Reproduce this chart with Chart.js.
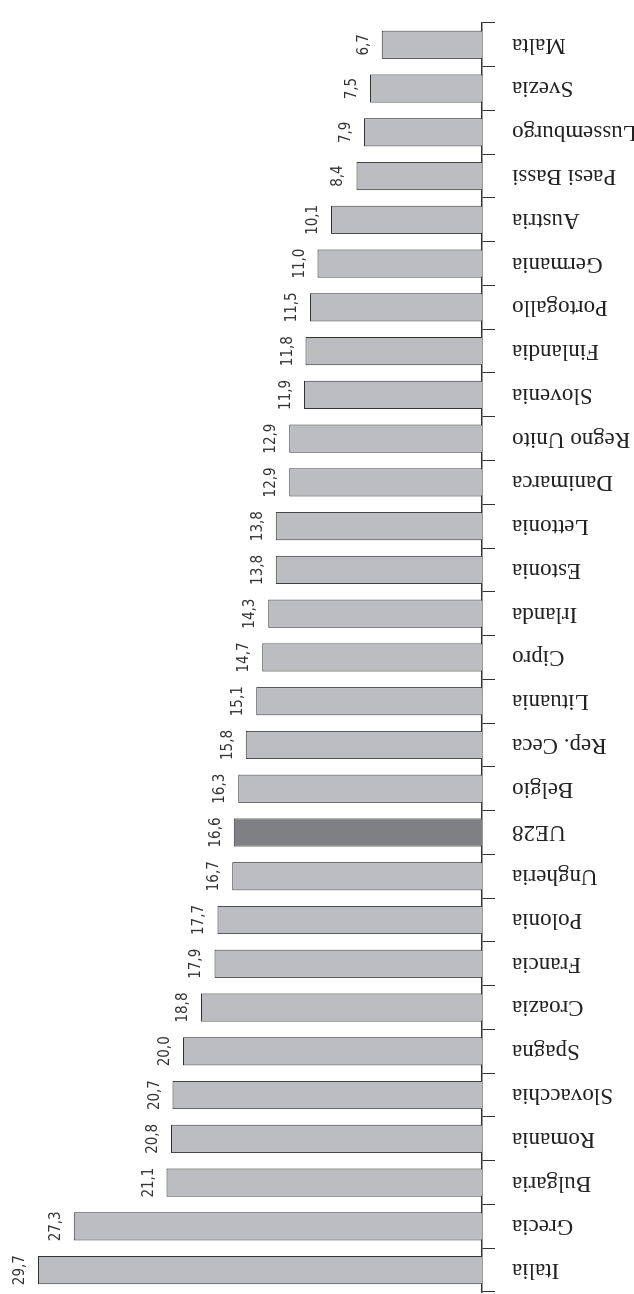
<!DOCTYPE html>
<html>
<head>
<meta charset="utf-8">
<script src="https://cdn.jsdelivr.net/npm/chart.js@4"></script>
<style>
  html, body { margin: 0; padding: 0; background: #ffffff; }
  #page { position: relative; width: 634px; height: 1294px; overflow: hidden; background: #ffffff; }
  /* the column chart is drawn landscape, then turned a quarter turn counter-clockwise */
  #turn {
    position: absolute; left: 0; top: 0;
    width: 1294px; height: 634px;
    transform-origin: 0 0;
    transform: translate(0, 1294px) rotate(-90deg);
  }
  canvas { display: block; }
</style>
</head>
<body>
<div id="page">
  <div id="turn"><canvas id="c" width="1294" height="634"></canvas></div>
</div>
<script>
// Paesi dell'UE e media UE28, valori in %
const categories = [
  'Italia', 'Grecia', 'Bulgaria', 'Romania', 'Slovacchia', 'Spagna', 'Croazia',
  'Francia', 'Polonia', 'Ungheria', 'UE28', 'Belgio', 'Rep. Ceca', 'Lituania',
  'Cipro', 'Irlanda', 'Estonia', 'Lettonia', 'Danimarca', 'Regno Unito',
  'Slovenia', 'Finlandia', 'Portogallo', 'Germania', 'Austria', 'Paesi Bassi',
  'Lussemburgo', 'Svezia', 'Malta'
];
const values = [
  29.7, 27.3, 21.1, 20.8, 20.7, 20.0, 18.8,
  17.9, 17.7, 16.7, 16.6, 16.3, 15.8, 15.1,
  14.7, 14.3, 13.8, 13.8, 12.9, 12.9,
  11.9, 11.8, 11.5, 11.0, 10.1, 8.4,
  7.9, 7.5, 6.7
];
const highlighted = ['UE28'];

const fmt = v => v.toFixed(1).replace('.', ',');

const barColors = categories.map(c => highlighted.includes(c) ? '#7f8083' : '#bcbdc0');

// value printed above each column
const valueLabels = {
  id: 'valueLabels',
  afterDatasetsDraw(chart) {
    const ctx = chart.ctx;
    const meta = chart.getDatasetMeta(0);
    ctx.save();
    ctx.font = '15px "Liberation Sans Narrow", "DejaVu Sans Condensed", "Liberation Sans", sans-serif';
    ctx.fillStyle = '#333333';
    ctx.textAlign = 'center';
    ctx.textBaseline = 'alphabetic';
    meta.data.forEach((bar, i) => {
      ctx.fillText(fmt(values[i]), bar.x, bar.y - 14);
    });
    ctx.restore();
  }
};

new Chart(document.getElementById('c'), {
  type: 'bar',
  data: {
    labels: categories,
    datasets: [{
      data: values,
      backgroundColor: barColors,
      borderColor: '#333333',
      borderWidth: 1,
      barPercentage: 0.645,
      categoryPercentage: 1.0
    }]
  },
  options: {
    responsive: false,
    animation: false,
    devicePixelRatio: 1,
    layout: { padding: { left: 2, right: 10, top: 33.5, bottom: 0 } },
    plugins: {
      legend: { display: false },
      tooltip: { enabled: false }
    },
    scales: {
      x: {
        position: 'bottom',
        offset: true,
        grid: {
          offset: true,
          drawOnChartArea: false,
          drawTicks: true,
          tickLength: 13,
          color: '#333333',
          lineWidth: 1
        },
        border: { display: true, color: '#333333', width: 1.5 },
        ticks: {
          autoSkip: false,
          minRotation: 90,
          maxRotation: 90,
          padding: 17,
          color: '#222222',
          font: { family: '"Liberation Serif", "DejaVu Serif", serif', size: 23 }
        },
        afterFit(scale) { scale.height = 152; }
      },
      y: {
        display: false,
        min: 0,
        max: 30
      }
    }
  },
  plugins: [valueLabels]
});
</script>
</body>
</html>
